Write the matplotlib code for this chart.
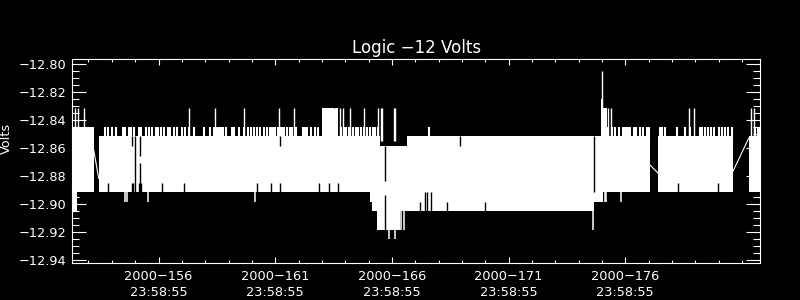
import matplotlib
matplotlib.use("Agg")
import matplotlib.pyplot as plt
from matplotlib.ticker import MultipleLocator

# ---------------- text ----------------
title = "Logic \u221212 Volts"
ylabel = "Volts"
tick_days = [156, 161, 166, 171, 176]
tick_labels = ["2000\u2212156\n23:58:55", "2000\u2212161\n23:58:55", "2000\u2212166\n23:58:55",
               "2000\u2212171\n23:58:55", "2000\u2212176\n23:58:55"]
yticks = [-12.80, -12.82, -12.84, -12.86, -12.88, -12.90, -12.92, -12.94]
ytick_labels = ["\u221212.80", "\u221212.82", "\u221212.84", "\u221212.86",
                "\u221212.88", "\u221212.90", "\u221212.92", "\u221212.94"]
x_range = (152.307, 181.771)
y_range = (-12.9422, -12.7964)

# ---------------- data (day of year, volts) ----------------
# dense oscillation core: blocks (start day, end day, high level, low level)
band_start = [152.307, 152.521, 153.438, 165.076, 165.150, 165.362, 165.504, 166.361,
              166.648, 174.672, 175.032, 177.388, 181.287]
band_end = [152.521, 153.224, 165.076, 165.150, 165.362, 165.504, 166.361, 166.648,
            174.672, 175.032, 177.059, 180.602, 181.771]
band_high = [-12.8449, -12.8449, -12.8516, -12.8516, -12.8516, -12.8516, -12.8583, -12.8583,
             -12.8516, -12.8516, -12.8516, -12.8516, -12.8516]
band_low = [-12.9052, -12.8918, -12.8918, -12.8985, -12.9052, -12.9186, -12.9186, -12.9052,
            -12.9052, -12.8985, -12.8918, -12.8918, -12.8918]

# excursions up to higher levels filling short intervals
upper_start = [163.006, 163.576, 174.946, 175.015]
upper_end = [163.507, 163.692, 175.015, 175.203]
upper_top = [-12.8315, -12.8315, -12.8248, -12.8315]

# single samples reaching -12.845
fringe_days = [153.687, 153.837, 154.008, 154.179, 154.479, 154.578, 154.723, 154.835, 154.951,
               155.165, 155.263, 155.465, 155.606, 155.735, 155.880, 155.966, 156.107, 156.223,
               156.407, 156.506, 156.651, 156.793, 157.020, 157.136, 157.286, 157.500, 157.950,
               158.207, 158.357, 158.485, 158.592, 158.678, 158.764, 158.871, 159.149, 159.235,
               159.449, 159.642, 159.835, 159.963, 160.092, 160.220, 160.349, 160.520, 160.649,
               160.756, 160.820, 160.906, 160.992, 161.099, 161.206, 161.292, 161.377, 161.506,
               161.634, 161.720, 161.891, 162.191, 162.277, 162.363, 162.534, 162.684, 162.834,
               163.819, 163.948, 164.034, 164.162, 164.334, 164.441, 164.548, 164.676, 164.805,
               164.934, 165.062, 165.169, 165.276, 165.405, 167.603, 175.272, 175.417, 175.559,
               175.743, 175.880, 175.987, 176.060, 176.129, 176.202, 176.373, 176.459, 176.630,
               176.772, 176.917, 177.016, 177.487, 177.573, 177.680, 178.216, 178.558, 178.772,
               179.201, 179.287, 179.415, 179.522, 179.672, 179.800, 179.993, 180.122, 180.272,
               180.400, 180.551, 181.558, 181.664, 181.728]
fringe_level = -12.8449

# single samples reaching -12.8315
tall_days = [152.423, 152.551, 152.808, 157.320, 158.434, 159.677, 161.176, 161.819, 163.532,
             163.768, 163.918, 164.192, 164.792, 165.396, 165.533, 165.576, 166.103, 166.146,
             175.250, 175.379, 178.708, 178.957, 181.365, 181.493]
tall_level = -12.8315

# highest sample
peak_day = [175.015]
peak_value = [-12.8045]

# single low samples
low_days = [154.578, 154.651, 155.550, 160.148, 165.889, 166.146, 166.403, 166.506,
            174.629, 175.109, 175.173, 175.829]
low_values = [-12.8985, -12.8985, -12.8985, -12.8985, -12.9253, -12.9253, -12.9186, -12.9186,
              -12.9186, -12.8985, -12.8985, -12.8985]

# places where the oscillation did not reach the band edge (day, from, to)
notch_days = [153.837, 154.860, 154.920, 155.180, 155.250, 156.147, 157.105, 160.221, 160.833,
              161.219, 162.890, 163.319, 163.692, 178.271, 179.985,
              167.217, 168.374, 170.002, 167.431, 167.517, 167.688,
              161.219, 168.931, 154.850,
              155.005, 155.216, 155.216, 165.718, 165.718, 174.672]
notch_from = [-12.8918] * 15 + [-12.9052] * 6 + [-12.8516] * 3 + \
             [-12.8516, -12.8516, -12.8710, -12.8583, -12.8935, -12.8516]
notch_to = [-12.8851] * 15 + [-12.8985] * 3 + [-12.8918] * 3 + [-12.8583] * 3 + \
           [-12.8918, -12.8660, -12.8918, -12.8835, -12.9186, -12.8918]

# lines joining data gaps
gap_x0 = [153.224, 177.059, 180.602]
gap_y0 = [-12.8614, -12.8722, -12.8770]
gap_x1 = [153.438, 177.388, 181.287]
gap_y1 = [-12.8817, -12.8777, -12.8530]

# ---------------- drawing ----------------
fig = plt.figure(figsize=(8, 3), dpi=100, facecolor="black")
ax = fig.add_axes([0.0904, 0.1243, 0.8596, 0.678])
ax.set_facecolor("black")

W = "white"
ax.bar(band_start, [h - l for h, l in zip(band_high, band_low)],
       width=[e - s for s, e in zip(band_start, band_end)], bottom=band_low,
       align="edge", color=W, linewidth=0)
ax.bar(upper_start, [t - (-12.8516) for t in upper_top],
       width=[e - s for s, e in zip(upper_start, upper_end)], bottom=-12.8516,
       align="edge", color=W, linewidth=0)
ax.vlines(fringe_days, -12.855, fringe_level, color=W, lw=1.5)
ax.vlines(tall_days, -12.855, tall_level, color=W, lw=1.0)
ax.vlines(peak_day, -12.855, peak_value, color=W, lw=1.0)
ax.vlines(low_days, -12.888, low_values, color=W, lw=1.1)
ax.vlines(notch_days, notch_from, notch_to, color="black", lw=1.0)
for x0, y0, x1, y1 in zip(gap_x0, gap_y0, gap_x1, gap_y1):
    ax.plot([x0, x1], [y0, y1], color=W, lw=0.8)

ax.set_xlim(*x_range)
ax.set_ylim(*y_range)
ax.set_xticks(tick_days, tick_labels)
ax.set_yticks(yticks, ytick_labels)
ax.xaxis.set_minor_locator(MultipleLocator(1))
ax.yaxis.set_minor_locator(MultipleLocator(0.005))

for s in ax.spines.values():
    s.set_color(W)
    s.set_linewidth(0.8)
ax.tick_params(which="both", direction="in", top=True, right=True, colors=W, width=0.8)
ax.tick_params(axis="y", which="major", length=10, pad=4, labelsize=9.3)
ax.tick_params(axis="y", which="minor", length=5)
ax.tick_params(axis="x", which="major", length=4.3, pad=5.5, labelsize=9.3)
ax.tick_params(axis="x", which="minor", length=2.2)
for lab in ax.get_xticklabels():
    lab.set_linespacing(1.28)

ax.set_title(title, color=W, fontsize=12, pad=4.3)
fig.text(0.0, 0.539, ylabel, color=W, fontsize=9.3, rotation=90, ha="left", va="center")

fig.savefig("out.png", dpi=100, facecolor="black")
